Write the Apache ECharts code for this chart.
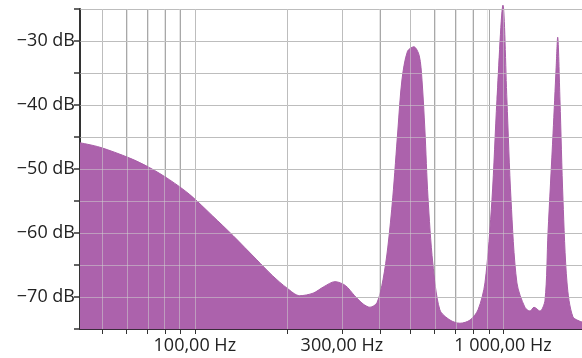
<!DOCTYPE html>
<html>
<head>
<meta charset="utf-8">
<script src="https://cdn.jsdelivr.net/npm/echarts@6/dist/echarts.min.js"></script>
<style>
html,body{margin:0;padding:0;background:#fff;}
#c{width:582px;height:358px;}
</style>
</head>
<body>
<div id="c"></div>
<script>
// Spectrum: frequency (Hz) and level (dB)
const freqs = [42.4, 49.2, 61.5, 71.4, 82.9, 96.3, 114, 133, 159, 179, 199, 219, 242, 262, 285, 308, 330, 352, 370, 390, 408, 423, 439, 456, 470, 490, 514, 535, 546, 558, 571, 592, 624, 673, 725, 782, 830, 874, 921, 956, 1000, 1030, 1062, 1110, 1178, 1224, 1261, 1318, 1369, 1400, 1454, 1488, 1505, 1531, 1566, 1614, 1687, 1805];
const levels = [-45.9, -46.6, -48.3, -49.8, -51.7, -54.0, -57.3, -60.4, -64.2, -66.7, -68.6, -69.8, -69.4, -68.4, -67.6, -68.2, -69.8, -71.1, -71.6, -70.9, -67.3, -62.2, -54.4, -43.9, -36.1, -31.6, -30.9, -32.3, -36.1, -43.9, -54.4, -64.7, -72.0, -73.6, -74.1, -73.6, -72.0, -67.8, -54.8, -39.2, -24.4, -39.2, -54.8, -67.8, -71.6, -72.2, -71.6, -72.2, -70.5, -60.0, -44.4, -34.1, -29.4, -39.2, -54.8, -67.8, -73.1, -73.9];
const gridFreqs = [50, 60, 70, 80, 90, 100, 200, 300, 400, 500, 600, 700, 800, 900, 1000];
const gridLevels = [-70, -65, -60, -55, -50, -45, -40, -35, -30, -25];
const labelFreqs = [100, 300, 1000];
const peakFreq = 514;
const peakLabel = '514 Hz';
const xRange = [42.4, 1805];
const yRange = [-75, -25];

const font = '"Open Sans", "Noto Sans", sans-serif';
function fmtHz(v) {
  const f = Math.round(Math.pow(10, v));
  const s = String(f).replace(/\B(?=(\d{3})+(?!\d))/g, ' ');
  return s + ',00 Hz';
}
const data = freqs.map((f, i) => {
  const item = { value: [Math.log10(f), levels[i]] };
  if (f === peakFreq) {
    item.label = { show: true, position: 'top', distance: 4, formatter: peakLabel,
      fontFamily: font, fontSize: 18, color: '#222' };
  }
  return item;
});
const overLines = gridFreqs.map(f => ({ xAxis: Math.log10(f) }))
  .concat(gridLevels.map(v => ({ yAxis: v })));

const chart = echarts.init(document.getElementById('c'));
chart.setOption({
  animation: false,
  backgroundColor: '#fff',
  grid: { left: 80, right: 0, top: 9, bottom: 29, containLabel: false },
  xAxis: {
    type: 'value',
    min: Math.log10(xRange[0]),
    max: Math.log10(xRange[1]),
    axisLine: { show: true, onZero: false, lineStyle: { color: '#3a2a3a', width: 2 } },
    axisTick: { show: true, length: 5, customValues: gridFreqs.map(f => Math.log10(f)),
      lineStyle: { color: '#333', width: 1 } },
    axisLabel: { customValues: labelFreqs.map(f => Math.log10(f)), formatter: fmtHz,
      fontFamily: font, fontSize: 18, color: '#222', margin: 8 },
    splitLine: { show: true, lineStyle: { color: '#a8a8a8', width: 1 } }
  },
  yAxis: {
    type: 'value',
    min: yRange[0], max: yRange[1], interval: 5,
    axisLine: { show: true, lineStyle: { color: '#333', width: 2 } },
    axisTick: { show: true, length: 6, lineStyle: { color: '#333', width: 1.5 } },
    axisLabel: {
      fontFamily: font, fontSize: 18, color: '#222', margin: 5,
      formatter: v => (v % 10 === 0 ? '\u2212' + Math.abs(v) + ' dB' : '')
    },
    splitLine: { show: true, lineStyle: { color: '#a8a8a8', width: 1 } }
  },
  series: [{
    type: 'line',
    z: 2,
    data: data,
    clip: false,
    showSymbol: false,
    symbol: 'none',
    smooth: 0.3,
    lineStyle: { width: 1, color: '#a85fa8' },
    areaStyle: { origin: 'start', color: '#ac62ac', opacity: 1 }
  }, {
    type: 'line',
    z: 10,
    data: [],
    silent: true,
    markLine: {
      silent: true,
      symbol: 'none',
      animation: false,
      label: { show: false },
      lineStyle: { color: 'rgba(205,205,205,0.55)', width: 1, type: 'solid' },
      data: overLines
    }
  }]
});
</script>
</body>
</html>
